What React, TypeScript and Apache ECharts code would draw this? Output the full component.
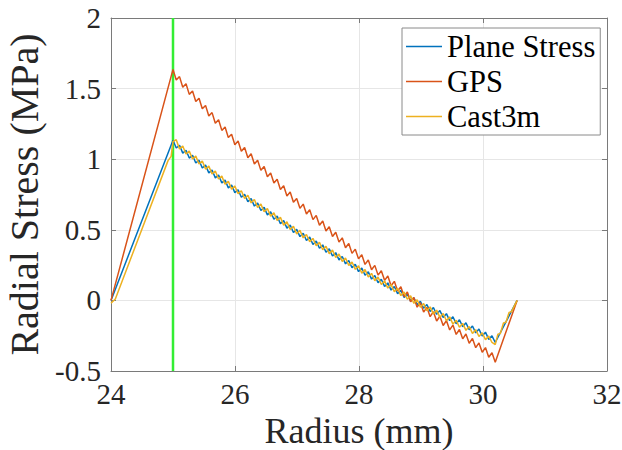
import React, { useEffect, useRef } from "react";
import * as echarts from "echarts";

// Radius of the mesh nodes where the sawtooth vertices sit (mm)
const radiusMesh = [
  25.0, 25.0525, 25.105, 25.1575, 25.21, 25.2625, 25.315, 25.3675, 25.42, 25.4725,
  25.525, 25.5775, 25.63, 25.6825, 25.735, 25.7875, 25.84, 25.8925, 25.945, 25.9975,
  26.05, 26.1025, 26.155, 26.2075, 26.26, 26.3125, 26.365, 26.4175, 26.47, 26.5225,
  26.575, 26.6275, 26.68, 26.7325, 26.785, 26.8375, 26.89, 26.9425, 26.995, 27.0475,
  27.1, 27.1525, 27.205, 27.2575, 27.31, 27.3625, 27.415, 27.4675, 27.52, 27.5725,
  27.625, 27.6775, 27.73, 27.7825, 27.835, 27.8875, 27.94, 27.9925, 28.045, 28.0975,
  28.15, 28.2025, 28.255, 28.3075, 28.36, 28.4125, 28.465, 28.5175, 28.57, 28.6225,
  28.675, 28.7275, 28.78, 28.8325, 28.885, 28.9375, 28.99, 29.0425, 29.095, 29.1475,
  29.2, 29.2525, 29.305, 29.3575, 29.41, 29.4625, 29.515, 29.5675, 29.62, 29.6725,
  29.725, 29.7775, 29.83, 29.8825, 29.935, 29.9875, 30.04, 30.0925, 30.145, 30.1975,
];

const planeStress = [
  1.134, 1.079, 1.099, 1.043, 1.063, 1.008, 1.028, 0.973, 0.993, 0.938,
  0.958, 0.903, 0.923, 0.868, 0.888, 0.832, 0.852, 0.797, 0.817, 0.763,
  0.784, 0.73, 0.752, 0.699, 0.721, 0.668, 0.69, 0.637, 0.659, 0.606,
  0.628, 0.575, 0.597, 0.543, 0.565, 0.512, 0.534, 0.481, 0.503, 0.452,
  0.476, 0.424, 0.448, 0.396, 0.42, 0.369, 0.393, 0.341, 0.365, 0.314,
  0.338, 0.287, 0.311, 0.259, 0.283, 0.231, 0.255, 0.204, 0.229, 0.178,
  0.202, 0.151, 0.176, 0.125, 0.15, 0.099, 0.124, 0.073, 0.098, 0.047,
  0.072, 0.021, 0.046, -0.005, 0.019, -0.032, -0.006, -0.056, -0.029, -0.078,
  -0.05, -0.099, -0.072, -0.121, -0.094, -0.143, -0.116, -0.165, -0.137, -0.186,
  -0.159, -0.208, -0.181, -0.23, -0.203, -0.252, -0.225, -0.276, -0.251, -0.298,
];

const gps = [
  1.636, 1.561, 1.585, 1.51, 1.534, 1.459, 1.483, 1.408, 1.432, 1.357,
  1.381, 1.306, 1.33, 1.255, 1.279, 1.204, 1.228, 1.153, 1.177, 1.103,
  1.129, 1.056, 1.083, 1.011, 1.038, 0.966, 0.993, 0.921, 0.948, 0.876,
  0.903, 0.831, 0.858, 0.785, 0.812, 0.74, 0.767, 0.695, 0.722, 0.652,
  0.682, 0.612, 0.642, 0.572, 0.602, 0.532, 0.562, 0.492, 0.522, 0.453,
  0.483, 0.413, 0.443, 0.373, 0.403, 0.333, 0.363, 0.294, 0.324, 0.255,
  0.286, 0.217, 0.248, 0.179, 0.21, 0.142, 0.173, 0.104, 0.135, 0.066,
  0.097, 0.028, 0.059, -0.01, 0.021, -0.048, -0.016, -0.083, -0.049, -0.115,
  -0.08, -0.146, -0.112, -0.178, -0.143, -0.209, -0.175, -0.241, -0.206, -0.272,
  -0.238, -0.304, -0.269, -0.335, -0.301, -0.368, -0.334, -0.403, -0.371, -0.438,
];

const cast3m = [
  1.124, 1.138, 1.073, 1.093, 1.037, 1.057, 1.001, 1.022, 0.966, 0.987,
  0.93, 0.951, 0.895, 0.916, 0.86, 0.88, 0.823, 0.844, 0.788, 0.81,
  0.755, 0.777, 0.722, 0.745, 0.691, 0.714, 0.659, 0.682, 0.628, 0.651,
  0.597, 0.62, 0.566, 0.588, 0.533, 0.556, 0.502, 0.525, 0.471, 0.496,
  0.443, 0.467, 0.415, 0.439, 0.387, 0.411, 0.359, 0.383, 0.331, 0.356,
  0.304, 0.328, 0.276, 0.3, 0.248, 0.272, 0.22, 0.245, 0.193, 0.218,
  0.166, 0.191, 0.14, 0.165, 0.113, 0.138, 0.087, 0.112, 0.061, 0.086,
  0.034, 0.059, 0.008, 0.033, -0.021, 0.005, -0.048, -0.022, -0.073, -0.046,
  -0.096, -0.069, -0.12, -0.093, -0.144, -0.117, -0.168, -0.141, -0.19, -0.163,
  -0.212, -0.185, -0.234, -0.207, -0.256, -0.229, -0.278, -0.253, -0.298, -0.313,
];

// Segments before the mesh (inner boundary) and after it (outer boundary)
const leadRadius = [24];
const planeStressLead = [0];
const gpsLead = [0];
const cast3mLeadRadius = [24, 24.07, 24.92, 24.97];
const cast3mLead = [-0.02, 0.01, 0.99, 1.02];

const tailRadius = [30.55];
const planeStressTail = [0];
const gpsTail = [0];
const cast3mTailRadius = [30.24, 30.28, 30.33, 30.37, 30.42, 30.46, 30.55];
const cast3mTail = [-0.24, -0.235, -0.16, -0.155, -0.085, -0.08, 0];

const interfaceRadius = 25;

const xTicks = { min: 24, max: 32, interval: 2 };
const yTicks = { min: -0.5, max: 2, interval: 0.5 };

const pairs = (xs: number[], ys: number[]) => xs.map((x, i) => [x, ys[i]]);

export default function App() {
  const ref = useRef<HTMLDivElement>(null);
  useEffect(() => {
    if (!ref.current) return;
    const chart = echarts.init(ref.current, undefined, { renderer: "svg" });
    const font = "Liberation Serif";
    const axisColor = "#7a7a7a";
    const baseX = {
      type: "value",
      min: xTicks.min,
      max: xTicks.max,
      interval: xTicks.interval,
      axisLine: { show: true, onZero: false, lineStyle: { color: axisColor, width: 1 } },
      axisTick: { show: true, inside: true, length: 5, lineStyle: { color: axisColor } },
    };
    const baseY = {
      type: "value",
      min: yTicks.min,
      max: yTicks.max,
      interval: yTicks.interval,
      axisLine: { show: true, onZero: false, lineStyle: { color: axisColor, width: 1 } },
      axisTick: { show: true, inside: true, length: 5, lineStyle: { color: axisColor } },
    };
    chart.setOption({
      animation: false,
      backgroundColor: "#ffffff",
      grid: {
        left: 111,
        right: 15,
        top: 18,
        bottom: 79,
        containLabel: false,
        outerBoundsMode: "none",
      },
      legend: {
        data: ["Plane Stress", "GPS", "Cast3m"],
        orient: "vertical",
        left: 402,
        top: 28,
        icon: "rect",
        itemWidth: 36,
        itemHeight: 1.5,
        itemGap: 4,
        padding: [3, 5, 3, 4],
        borderColor: "#8a8a8a",
        borderWidth: 1,
        backgroundColor: "#ffffff",
        textStyle: { fontFamily: font, fontSize: 30.5, color: "#000" },
      },
      xAxis: [
        {
          ...baseX,
          position: "bottom",
          name: "Radius (mm)",
          nameLocation: "middle",
          nameGap: 40,
          nameTextStyle: { fontFamily: font, fontSize: 36, lineHeight: 36, color: "#262626" },
          axisLabel: { fontFamily: font, fontSize: 29, color: "#262626", margin: 8 },
          splitLine: { show: true, lineStyle: { color: "#e6e6e6", width: 1 } },
        },
        {
          ...baseX,
          position: "top",
          axisLabel: { show: false },
          splitLine: { show: false },
        },
      ],
      yAxis: [
        {
          ...baseY,
          position: "left",
          name: "Radial Stress (MPa)",
          nameLocation: "middle",
          nameGap: 54,
          nameTextStyle: { fontFamily: font, fontSize: 40, color: "#262626" },
          axisLabel: { fontFamily: font, fontSize: 29, color: "#262626", margin: 10 },
          splitLine: { show: true, lineStyle: { color: "#e6e6e6", width: 1 } },
        },
        {
          ...baseY,
          position: "right",
          axisLabel: { show: false },
          splitLine: { show: false },
        },
      ],
      series: [
        {
          name: "interface",
          type: "line",
          data: [
            [interfaceRadius, yTicks.min],
            [interfaceRadius, yTicks.max],
          ],
          symbol: "none",
          silent: true,
          lineStyle: { color: "#33ee33", width: 2.5 },
          z: 1,
        },
        {
          name: "Plane Stress",
          type: "line",
          symbol: "none",
          color: "#0072BD",
          lineStyle: { width: 1.5 },
          data: [
            ...pairs(leadRadius, planeStressLead),
            ...pairs(radiusMesh, planeStress),
            ...pairs(tailRadius, planeStressTail),
          ],
          z: 2,
        },
        {
          name: "GPS",
          type: "line",
          symbol: "none",
          color: "#D95319",
          lineStyle: { width: 1.5 },
          data: [
            ...pairs(leadRadius, gpsLead),
            ...pairs(radiusMesh, gps),
            ...pairs(tailRadius, gpsTail),
          ],
          z: 2,
        },
        {
          name: "Cast3m",
          type: "line",
          symbol: "none",
          color: "#EDB120",
          lineStyle: { width: 1.5 },
          data: [
            ...pairs(cast3mLeadRadius, cast3mLead),
            ...pairs(radiusMesh, cast3m),
            ...pairs(cast3mTailRadius, cast3mTail),
          ],
          z: 2,
        },
      ],
    });
    return () => chart.dispose();
  }, []);
  return (
    <div
      ref={ref}
      style={{ position: "fixed", left: 0, top: 0, width: 622, height: 450, background: "#fff" }}
    />
  );
}
